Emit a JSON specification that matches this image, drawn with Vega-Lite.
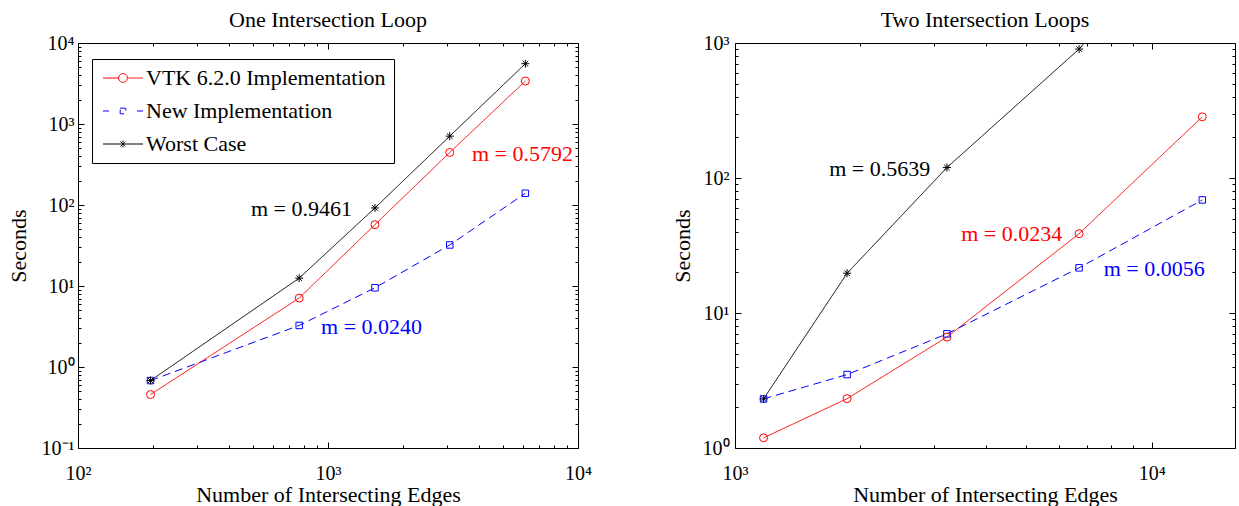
{
  "$schema": "https://vega.github.io/schema/vega-lite/v6.json",
  "background": "white",
  "padding": {"left": 6, "top": 8, "right": 0, "bottom": 0},
  "spacing": 78,
  "datasets": {
    "one": [
      {"series": "VTK 6.2.0 Implementation", "x": 195, "y": 0.457},
      {"series": "VTK 6.2.0 Implementation", "x": 767, "y": 7.1},
      {"series": "VTK 6.2.0 Implementation", "x": 1541, "y": 57.2},
      {"series": "VTK 6.2.0 Implementation", "x": 3069, "y": 445},
      {"series": "VTK 6.2.0 Implementation", "x": 6158, "y": 3390},
      {"series": "New Implementation", "x": 195, "y": 0.68},
      {"series": "New Implementation", "x": 767, "y": 3.26},
      {"series": "New Implementation", "x": 1541, "y": 9.5},
      {"series": "New Implementation", "x": 3069, "y": 32.1},
      {"series": "New Implementation", "x": 6158, "y": 139.6},
      {"series": "Worst Case", "x": 195, "y": 0.68},
      {"series": "Worst Case", "x": 767, "y": 12.5},
      {"series": "Worst Case", "x": 1541, "y": 92},
      {"series": "Worst Case", "x": 3069, "y": 708},
      {"series": "Worst Case", "x": 6158, "y": 5550}
    ],
    "two": [
      {"series": "VTK 6.2.0 Implementation", "x": 1171, "y": 1.19},
      {"series": "VTK 6.2.0 Implementation", "x": 1858, "y": 2.32},
      {"series": "VTK 6.2.0 Implementation", "x": 3226, "y": 6.63},
      {"series": "VTK 6.2.0 Implementation", "x": 6697, "y": 38.7},
      {"series": "VTK 6.2.0 Implementation", "x": 13230, "y": 284},
      {"series": "New Implementation", "x": 1171, "y": 2.31},
      {"series": "New Implementation", "x": 1858, "y": 3.5},
      {"series": "New Implementation", "x": 3226, "y": 7.01},
      {"series": "New Implementation", "x": 6697, "y": 21.6},
      {"series": "New Implementation", "x": 13230, "y": 68.8},
      {"series": "Worst Case", "x": 1171, "y": 2.31},
      {"series": "Worst Case", "x": 1858, "y": 19.7},
      {"series": "Worst Case", "x": 3226, "y": 119.5},
      {"series": "Worst Case", "x": 6697, "y": 902},
      {"series": "Worst Case", "x": 13230, "y": 10000}
    ],
    "ann1": [
      {"label": "m = 0.5792", "series": "VTK 6.2.0 Implementation", "x": 3767, "y": 427},
      {"label": "m = 0.9461", "series": "Worst Case", "x": 492, "y": 89.3},
      {"label": "m = 0.0240", "series": "New Implementation", "x": 938, "y": 3.12}
    ],
    "ann2": [
      {"label": "m = 0.5639", "series": "Worst Case", "x": 1683, "y": 116.6},
      {"label": "m = 0.0234", "series": "VTK 6.2.0 Implementation", "x": 3491, "y": 38.5},
      {"label": "m = 0.0056", "series": "New Implementation", "x": 7674, "y": 21.2}
    ]
  },
  "resolve": {
    "scale": {"color": "independent", "strokeDash": "independent", "shape": "independent", "fill": "independent"},
    "legend": {"color": "independent", "shape": "independent", "fill": "independent"}
  },
  "hconcat": [
    {
      "width": 500,
      "height": 405,
      "title": {"text": "One Intersection Loop", "offset": 1},
      "resolve": {"axis": {"x": "independent", "y": "independent"}},
      "layer": [
        {
          "data": {"name": "one"},
          "mark": {"type": "point", "filled": false, "opacity": 0, "strokeWidth": 1, "clip": true},
          "encoding": {
            "x": {"field": "x", "type": "quantitative", "scale": {"type": "log", "domain": [100, 10000], "nice": false}, "axis": null},
            "y": {"field": "y", "type": "quantitative", "scale": {"type": "log", "domain": [0.1, 10000], "nice": false}, "axis": null},
            "color": {"field": "series", "type": "nominal",
              "scale": {"domain": ["VTK 6.2.0 Implementation", "New Implementation", "Worst Case"], "range": ["#ff0000", "#0000ff", "#000000"]},
              "legend": {"orient": "none", "legendX": 14, "legendY": 16, "title": null, "strokeColor": "black", "fillColor": "white", "padding": 8, "labelFontSize": 22, "labelFont": "Liberation Serif", "labelColor": "black", "labelLimit": 400, "symbolSize": 64, "symbolStrokeWidth": 1, "symbolOpacity": 1, "symbolFillColor": "transparent", "symbolOffset": 12, "labelOffset": 12, "rowPadding": 11}},
            "shape": {"field": "series", "type": "nominal",
              "scale": {"domain": ["VTK 6.2.0 Implementation", "New Implementation", "Worst Case"],
                "range": ["M-5,0H-1.1M1.1,0H5M-1.1,0A1.1,1.1,0,1,0,1.1,0A1.1,1.1,0,1,0,-1.1,0", "M-5,0H-3.5M3.5,0H5M-0.7,-0.7H0.7V0.7H-0.7Z", "M-5,0H5M0,-0.9V0.9M-0.65,-0.65L0.65,0.65M-0.65,0.65L0.65,-0.65"]},
              "legend": {"orient": "none", "legendX": 14, "legendY": 16, "title": null, "strokeColor": "black", "fillColor": "white", "padding": 8, "labelFontSize": 22, "labelFont": "Liberation Serif", "labelColor": "black", "labelLimit": 400, "symbolSize": 64, "symbolStrokeWidth": 1, "symbolOpacity": 1, "symbolFillColor": "transparent", "symbolOffset": 12, "labelOffset": 12, "rowPadding": 11}}
          }
        },
        {
          "data": {"name": "one"},
          "mark": {"type": "line", "strokeWidth": 1, "clip": true},
          "encoding": {
            "x": {"field": "x", "type": "quantitative",
              "axis": {"orient": "bottom", "values": [100, 1000, 10000],
                "labelExpr": "'10' + ['⁻¹','⁰','¹','²','³','⁴'][round(log(datum.value)/LN10)+1]",
                "tickSize": -6, "labelPadding": 21, "title": "Number of Intersecting Edges",
                "titlePadding": 6, "minExtent": 30, "maxExtent": 30}},
            "y": {"field": "y", "type": "quantitative",
              "axis": {"orient": "left", "values": [0.1, 1, 10, 100, 1000, 10000],
                "labelExpr": "'10' + ['⁻¹','⁰','¹','²','³','⁴'][round(log(datum.value)/LN10)+1]",
                "tickSize": -6, "labelPadding": 10, "title": "Seconds",
                "titlePadding": 8, "minExtent": 40, "maxExtent": 40}},
            "color": {"field": "series", "type": "nominal", "legend": null},
            "strokeDash": {"field": "series", "type": "nominal",
              "scale": {"domain": ["VTK 6.2.0 Implementation", "New Implementation", "Worst Case"], "range": [[1, 0], [8, 5], [1, 0]]},
              "legend": null},
            "order": {"field": "x", "type": "quantitative"}
          }
        },
        {
          "data": {"name": "one"},
          "transform": [{"filter": "datum.series == 'VTK 6.2.0 Implementation'"}],
          "mark": {"type": "point", "shape": "circle", "size": 64, "filled": false, "color": "#ff0000", "opacity": 1, "strokeWidth": 1, "clip": true},
          "encoding": {
            "x": {"field": "x", "type": "quantitative",
              "axis": {"orient": "top", "values": [100, 1000, 10000], "labels": false, "tickSize": -6, "title": null}},
            "y": {"field": "y", "type": "quantitative",
              "axis": {"orient": "right", "values": [0.1, 1, 10, 100, 1000, 10000], "labels": false, "tickSize": -6, "title": null}}
          }
        },
        {
          "data": {"name": "one"},
          "transform": [{"filter": "datum.series == 'New Implementation'"}],
          "mark": {"type": "point", "shape": "square", "size": 42, "filled": false, "color": "#0000ff", "opacity": 1, "strokeWidth": 1, "clip": true},
          "encoding": {
            "x": {"field": "x", "type": "quantitative",
              "axis": {"orient": "bottom", "values": [200, 300, 400, 500, 600, 700, 800, 900, 2000, 3000, 4000, 5000, 6000, 7000, 8000, 9000], "labels": false, "tickSize": -3, "title": null}},
            "y": {"field": "y", "type": "quantitative",
              "axis": {"orient": "left", "values": [0.2, 0.3, 0.4, 0.5, 0.6, 0.7, 0.8, 0.9, 2, 3, 4, 5, 6, 7, 8, 9, 20, 30, 40, 50, 60, 70, 80, 90, 200, 300, 400, 500, 600, 700, 800, 900, 2000, 3000, 4000, 5000, 6000, 7000, 8000, 9000], "labels": false, "tickSize": -3, "title": null}}
          }
        },
        {
          "data": {"name": "one"},
          "transform": [{"filter": "datum.series == 'Worst Case'"}],
          "mark": {"type": "point", "shape": "M-1,0H1M0,-1V1M-0.7,-0.7L0.7,0.7M-0.7,0.7L0.7,-0.7", "size": 64, "filled": false, "color": "#000000", "opacity": 1, "strokeWidth": 1, "clip": true},
          "encoding": {
            "x": {"field": "x", "type": "quantitative",
              "axis": {"orient": "top", "values": [200, 300, 400, 500, 600, 700, 800, 900, 2000, 3000, 4000, 5000, 6000, 7000, 8000, 9000], "labels": false, "tickSize": -3, "title": null}},
            "y": {"field": "y", "type": "quantitative",
              "axis": {"orient": "right", "values": [0.2, 0.3, 0.4, 0.5, 0.6, 0.7, 0.8, 0.9, 2, 3, 4, 5, 6, 7, 8, 9, 20, 30, 40, 50, 60, 70, 80, 90, 200, 300, 400, 500, 600, 700, 800, 900, 2000, 3000, 4000, 5000, 6000, 7000, 8000, 9000], "labels": false, "tickSize": -3, "title": null}}
          }
        },
        {
          "data": {"name": "ann1"},
          "mark": {"type": "text", "align": "left", "baseline": "middle", "fontSize": 22, "font": "Liberation Serif"},
          "encoding": {
            "x": {"field": "x", "type": "quantitative", "axis": null},
            "y": {"field": "y", "type": "quantitative", "axis": null},
            "text": {"field": "label"},
            "fill": {"field": "series", "type": "nominal",
              "scale": {"domain": ["Worst Case", "VTK 6.2.0 Implementation", "New Implementation"], "range": ["#000000", "#ff0000", "#0000ff"]},
              "legend": null}
          }
        }
      ]
    },
    {
      "width": 500,
      "height": 405,
      "title": {"text": "Two Intersection Loops", "offset": 1},
      "resolve": {"axis": {"x": "independent", "y": "independent"}},
      "layer": [
        {
          "data": {"name": "two"},
          "mark": {"type": "line", "strokeWidth": 1, "clip": true},
          "encoding": {
            "x": {"field": "x", "type": "quantitative",
              "scale": {"type": "log", "domain": [1000, 15850], "nice": false},
              "axis": {"orient": "bottom", "values": [1000, 10000],
                "labelExpr": "'10' + ['⁻¹','⁰','¹','²','³','⁴'][round(log(datum.value)/LN10)+1]",
                "tickSize": -6, "labelPadding": 21, "title": "Number of Intersecting Edges",
                "titlePadding": 6, "minExtent": 30, "maxExtent": 30}},
            "y": {"field": "y", "type": "quantitative",
              "scale": {"type": "log", "domain": [1, 1000], "nice": false},
              "axis": {"orient": "left", "values": [1, 10, 100, 1000],
                "labelExpr": "'10' + ['⁻¹','⁰','¹','²','³','⁴'][round(log(datum.value)/LN10)+1]",
                "tickSize": -6, "labelPadding": 12, "title": "Seconds",
                "titlePadding": 8, "minExtent": 33, "maxExtent": 33}},
            "color": {"field": "series", "type": "nominal",
              "scale": {"domain": ["VTK 6.2.0 Implementation", "New Implementation", "Worst Case"], "range": ["#ff0000", "#0000ff", "#000000"]},
              "legend": null},
            "strokeDash": {"field": "series", "type": "nominal",
              "scale": {"domain": ["VTK 6.2.0 Implementation", "New Implementation", "Worst Case"], "range": [[1, 0], [8, 5], [1, 0]]},
              "legend": null},
            "order": {"field": "x", "type": "quantitative"}
          }
        },
        {
          "data": {"name": "two"},
          "transform": [{"filter": "datum.series == 'VTK 6.2.0 Implementation'"}],
          "mark": {"type": "point", "shape": "circle", "size": 64, "filled": false, "color": "#ff0000", "opacity": 1, "strokeWidth": 1, "clip": true},
          "encoding": {
            "x": {"field": "x", "type": "quantitative",
              "axis": {"orient": "top", "values": [1000, 10000], "labels": false, "tickSize": -6, "title": null}},
            "y": {"field": "y", "type": "quantitative",
              "axis": {"orient": "right", "values": [1, 10, 100, 1000], "labels": false, "tickSize": -6, "title": null}}
          }
        },
        {
          "data": {"name": "two"},
          "transform": [{"filter": "datum.series == 'New Implementation'"}],
          "mark": {"type": "point", "shape": "square", "size": 42, "filled": false, "color": "#0000ff", "opacity": 1, "strokeWidth": 1, "clip": true},
          "encoding": {
            "x": {"field": "x", "type": "quantitative",
              "axis": {"orient": "bottom", "values": [2000, 3000, 4000, 5000, 6000, 7000, 8000, 9000], "labels": false, "tickSize": -3, "title": null}},
            "y": {"field": "y", "type": "quantitative",
              "axis": {"orient": "left", "values": [2, 3, 4, 5, 6, 7, 8, 9, 20, 30, 40, 50, 60, 70, 80, 90, 200, 300, 400, 500, 600, 700, 800, 900], "labels": false, "tickSize": -3, "title": null}}
          }
        },
        {
          "data": {"name": "two"},
          "transform": [{"filter": "datum.series == 'Worst Case'"}],
          "mark": {"type": "point", "shape": "M-1,0H1M0,-1V1M-0.7,-0.7L0.7,0.7M-0.7,0.7L0.7,-0.7", "size": 64, "filled": false, "color": "#000000", "opacity": 1, "strokeWidth": 1, "clip": true},
          "encoding": {
            "x": {"field": "x", "type": "quantitative",
              "axis": {"orient": "top", "values": [2000, 3000, 4000, 5000, 6000, 7000, 8000, 9000], "labels": false, "tickSize": -3, "title": null}},
            "y": {"field": "y", "type": "quantitative",
              "axis": {"orient": "right", "values": [2, 3, 4, 5, 6, 7, 8, 9, 20, 30, 40, 50, 60, 70, 80, 90, 200, 300, 400, 500, 600, 700, 800, 900], "labels": false, "tickSize": -3, "title": null}}
          }
        },
        {
          "data": {"name": "ann2"},
          "mark": {"type": "text", "align": "left", "baseline": "middle", "fontSize": 22, "font": "Liberation Serif"},
          "encoding": {
            "x": {"field": "x", "type": "quantitative", "axis": null},
            "y": {"field": "y", "type": "quantitative", "axis": null},
            "text": {"field": "label"},
            "color": {"field": "series", "type": "nominal", "legend": null}
          }
        }
      ]
    }
  ],
  "config": {
    "font": "Liberation Serif",
    "view": {"stroke": "black", "strokeWidth": 1},
    "axis": {
      "labelFont": "Liberation Serif", "titleFont": "Liberation Serif",
      "labelFontSize": 20, "titleFontSize": 22, "titleFontWeight": "normal",
      "labelColor": "black", "titleColor": "black", "tickColor": "black", "tickWidth": 1,
      "domain": false, "grid": false, "labelFlush": false, "labelOverlap": false
    },
    "title": {"font": "Liberation Serif", "fontSize": 22, "fontWeight": "normal", "anchor": "middle", "frame": "group", "color": "black"}
  }
}
